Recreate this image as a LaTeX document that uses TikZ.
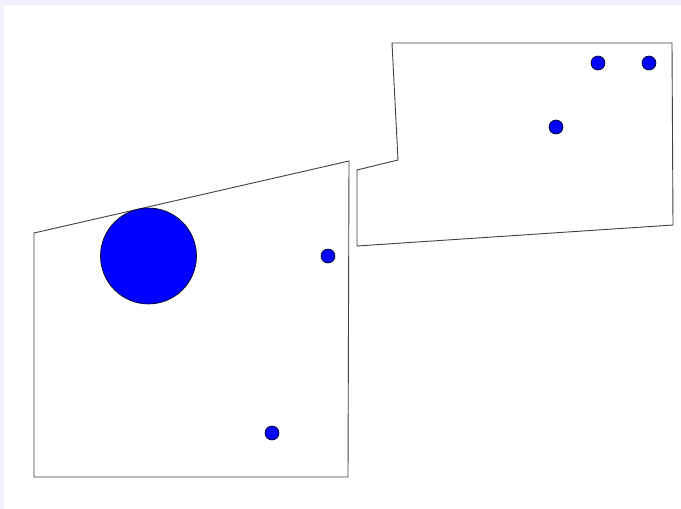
\documentclass[tikz,border=0pt]{standalone}
\begin{document}
\begin{tikzpicture}[x=1pt,y=-1pt,
  plate/.style={draw=black!75,line width=0.9pt,fill=white},
  dot/.style={draw=black,line width=0.6pt,fill=blue}]
\useasboundingbox (0,0) rectangle (681,509);
\fill[blue!6] (0,0) rectangle (681,509);
\fill[white] (4,5) rectangle (681,509);
% left plate
\draw[plate] (34,233) -- (349,161) -- (348,477) -- (34,477) -- cycle;
% right plate
\draw[plate] (392,43) -- (672,43) -- (673,225) -- (357,246) -- (357,170) -- (398,160) -- cycle;
% big circle
\draw[dot] (148.5,256) circle[radius=48];
% small dots
\draw[dot] (598,63) circle[radius=7];
\draw[dot] (649,63) circle[radius=7];
\draw[dot] (556,127) circle[radius=7];
\draw[dot] (328,256) circle[radius=7];
\draw[dot] (272,433) circle[radius=7];
\end{tikzpicture}
\end{document}
